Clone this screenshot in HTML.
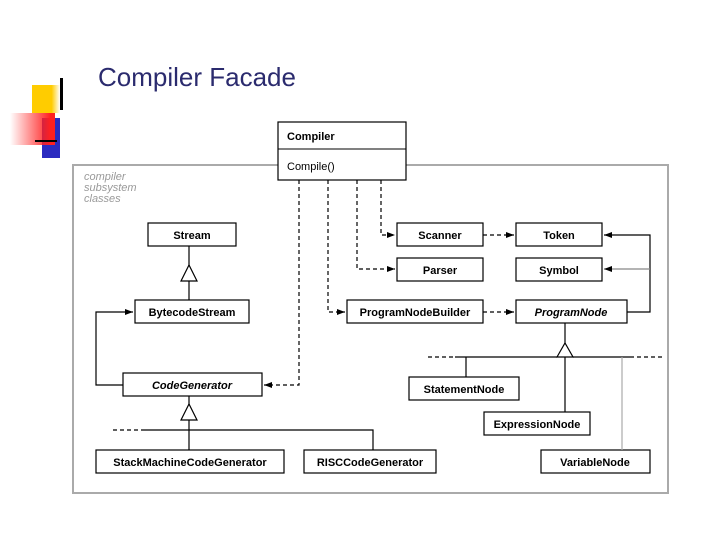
<!DOCTYPE html>
<html><head><style>
body{margin:0;width:720px;height:540px;background:#fff;overflow:hidden;position:relative;font-family:"Liberation Sans",sans-serif}
.t{position:absolute;left:98px;top:62px;font-size:26px;color:#2b2b6e}
</style></head><body>
<div style="position:absolute;left:32px;top:85px;width:28px;height:28px;background:linear-gradient(90deg,#ffcc00 70%,#fff)"></div>
<div style="position:absolute;left:42px;top:118px;width:18px;height:40px;background:#2b2bc0"></div>
<div style="position:absolute;left:10px;top:113px;width:45px;height:32px;background:linear-gradient(90deg,rgba(255,255,255,0),#ff2020 90%)"></div>
<div style="position:absolute;left:60px;top:78px;width:3px;height:32px;background:#000"></div>
<div style="position:absolute;left:35px;top:140px;width:22px;height:2px;background:#000"></div>
<div class="t">Compiler Facade</div>
<svg width="720" height="540" style="position:absolute;left:0;top:0" font-family="Liberation Sans, sans-serif" font-size="11" font-weight="bold">
<defs><marker id="a" markerWidth="8" markerHeight="6" refX="8" refY="3" orient="auto" markerUnits="userSpaceOnUse"><path d="M0,0L8,3L0,6z" fill="#000"/></marker></defs>
<rect x="73" y="165" width="595" height="328" fill="none" stroke="#aaa" stroke-width="2"/>
<text x="84" y="180" font-style="italic" font-weight="normal" fill="#999" font-size="11">compiler</text>
<text x="84" y="191" font-style="italic" font-weight="normal" fill="#999" font-size="11">subsystem</text>
<text x="84" y="202" font-style="italic" font-weight="normal" fill="#999" font-size="11">classes</text>
<g fill="#fff" stroke="#000" stroke-width="1.2">
<rect x="278" y="122" width="128" height="58"/>
<rect x="148" y="223" width="88" height="23"/>
<rect x="135" y="300" width="114" height="23"/>
<rect x="123" y="373" width="139" height="23"/>
<rect x="96" y="450" width="188" height="23"/>
<rect x="304" y="450" width="132" height="23"/>
<rect x="397" y="223" width="86" height="23"/>
<rect x="516" y="223" width="86" height="23"/>
<rect x="397" y="258" width="86" height="23"/>
<rect x="516" y="258" width="86" height="23"/>
<rect x="347" y="300" width="136" height="23"/>
<rect x="516" y="300" width="111" height="23"/>
<rect x="409" y="377" width="110" height="23"/>
<rect x="484" y="412" width="106" height="23"/>
<rect x="541" y="450" width="109" height="23"/>
</g>
<line x1="278" y1="149" x2="406" y2="149" stroke="#000"/>
<g fill="none" stroke="#000" stroke-width="1.2">
<line x1="189" y1="246" x2="189" y2="300"/><path d="M181,281L189,265L197,281z" fill="#fff"/>
<path d="M123,385H96V312H133" marker-end="url(#a)"/>
<line x1="189" y1="396" x2="189" y2="430"/><path d="M181,420L189,404L197,420z" fill="#fff"/>
<path d="M143,430H373V450M189,430V450"/><line x1="113" y1="430" x2="143" y2="430" stroke-dasharray="4,3"/>
<line x1="565" y1="323" x2="565" y2="412"/><path d="M557,357L565,343L573,357z" fill="#fff"/>
<path d="M455,357H557M573,357H630M466,357V377"/>
<line x1="428" y1="357" x2="455" y2="357" stroke-dasharray="4,3"/><line x1="630" y1="357" x2="662" y2="357" stroke-dasharray="4,3"/>
<path d="M627,312H650V235H604" marker-end="url(#a)"/>
<path d="M650,269H604" stroke="#888" marker-end="url(#a)"/>
<line x1="622" y1="357" x2="622" y2="450" stroke="#aaa"/>
</g>
<g fill="none" stroke="#000" stroke-width="1.2" stroke-dasharray="4,3">
<path d="M299,180V385H264" marker-end="url(#a)"/>
<path d="M328,180V312H345" marker-end="url(#a)"/>
<path d="M357,180V269H395" marker-end="url(#a)"/>
<path d="M381,180V235H395" marker-end="url(#a)"/>
<path d="M483,235H514" marker-end="url(#a)"/>
<path d="M483,312H514" marker-end="url(#a)"/>
</g>
<g text-anchor="middle">
<text x="192" y="239">Stream</text>
<text x="192" y="316">BytecodeStream</text>
<text x="192" y="389" font-style="italic">CodeGenerator</text>
<text x="190" y="466">StackMachineCodeGenerator</text>
<text x="370" y="466">RISCCodeGenerator</text>
<text x="440" y="239">Scanner</text>
<text x="559" y="239">Token</text>
<text x="440" y="274">Parser</text>
<text x="559" y="274">Symbol</text>
<text x="415" y="316">ProgramNodeBuilder</text>
<text x="571" y="316" font-style="italic">ProgramNode</text>
<text x="464" y="393">StatementNode</text>
<text x="537" y="428">ExpressionNode</text>
<text x="595" y="466">VariableNode</text>
</g>
<text x="287" y="140">Compiler</text>
<text x="287" y="170" font-weight="normal">Compile()</text>
</svg>
</body></html>
